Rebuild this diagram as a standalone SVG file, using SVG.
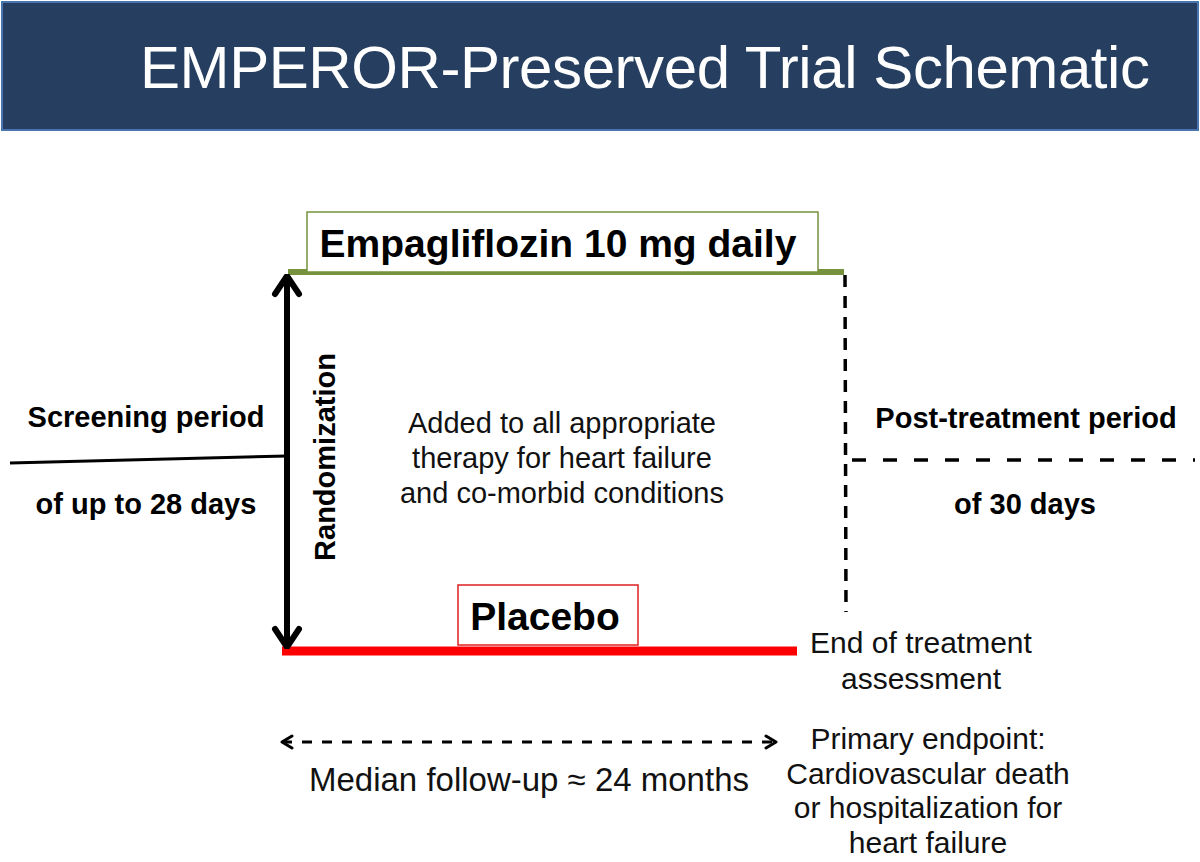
<svg xmlns="http://www.w3.org/2000/svg" width="1200" height="862" viewBox="0 0 1200 862">
<style>
.b{font-family:"Liberation Sans",Arial,sans-serif;font-weight:bold;fill:#000}
.n{font-family:"Liberation Sans",Arial,sans-serif;fill:#111}
</style>
<defs>
<marker id="ah" viewBox="0 0 24 32" refX="22" refY="16" markerWidth="24" markerHeight="32" markerUnits="userSpaceOnUse" orient="auto-start-reverse">
<path d="M4,4 L22,16 L4,28" fill="none" stroke="#000" stroke-width="6" stroke-linecap="round" stroke-linejoin="round"/>
</marker>
<marker id="sa" viewBox="0 0 16 16" refX="13" refY="8" markerWidth="16" markerHeight="16" markerUnits="userSpaceOnUse" orient="auto-start-reverse">
<path d="M3,2 L13,8 L3,14" fill="none" stroke="#000" stroke-width="3" stroke-linecap="round" stroke-linejoin="round"/>
</marker>
</defs>
<rect x="0" y="0" width="1200" height="862" fill="#fff"/>
<g id="header">
<rect x="2" y="2" width="1196" height="128" fill="#263f60" stroke="#4a74b0" stroke-width="2"/>
<text x="140" y="88" font-family="Liberation Sans,Arial,sans-serif" font-size="60" fill="#fff" textLength="1010">EMPEROR-Preserved Trial Schematic</text>
</g>
<g id="connectors">
<line x1="10" y1="463" x2="287" y2="456" stroke="#000" stroke-width="3"/>
<line x1="288" y1="272" x2="844" y2="272" stroke="#76923c" stroke-width="6"/>
<line x1="282" y1="651" x2="797" y2="651" stroke="#ff0000" stroke-width="9"/>
<line x1="287" y1="276" x2="287" y2="647" stroke="#000" stroke-width="6" marker-start="url(#ah)" marker-end="url(#ah)"/>
<line x1="845" y1="275" x2="846" y2="612" stroke="#000" stroke-width="3.5" stroke-dasharray="12,9"/>
<line x1="852" y1="460" x2="1195" y2="460" stroke="#000" stroke-width="3.5" stroke-dasharray="14,17"/>
<line x1="282" y1="742" x2="776" y2="742" stroke="#000" stroke-width="3" stroke-dasharray="10,10" marker-start="url(#sa)" marker-end="url(#sa)"/>
</g>
<g id="empagliflozin">
<rect x="307" y="212" width="511" height="60" fill="#fff" stroke="#76923c" stroke-width="1.5"/>
<text x="558" y="257" class="b" font-size="39" text-anchor="middle">Empagliflozin 10 mg daily</text>
</g>
<g id="placebo">
<rect x="458" y="585" width="180" height="60" fill="#fff" stroke="#e02020" stroke-width="1.5"/>
<text x="545" y="630" class="b" font-size="39" text-anchor="middle">Placebo</text>
</g>
<g id="randomization">
<text transform="translate(335,457) rotate(-90)" class="b" font-size="29" text-anchor="middle">Randomization</text>
</g>
<g id="screening">
<text x="146" y="427" class="b" font-size="29" text-anchor="middle">Screening period</text>
<text x="146" y="514" class="b" font-size="29" text-anchor="middle">of up to 28 days</text>
</g>
<g id="posttreatment">
<text x="1026" y="428" class="b" font-size="29" text-anchor="middle">Post-treatment period</text>
<text x="1025" y="514" class="b" font-size="29" text-anchor="middle">of 30 days</text>
</g>
<g id="added">
<text class="n" font-size="29" text-anchor="middle"><tspan x="562" y="433">Added to all appropriate</tspan><tspan x="562" y="468">therapy for heart failure</tspan><tspan x="562" y="503">and co-morbid conditions</tspan></text>
</g>
<g id="endtreatment">
<text class="n" font-size="30" text-anchor="middle"><tspan x="921" y="653">End of treatment</tspan><tspan x="921" y="689">assessment</tspan></text>
</g>
<g id="followup">
<text x="529" y="791" class="n" font-size="33" text-anchor="middle">Median follow-up ≈ 24 months</text>
</g>
<g id="endpoint">
<text class="n" font-size="30" text-anchor="middle"><tspan x="928" y="749">Primary endpoint:</tspan><tspan x="928" y="784">Cardiovascular death</tspan><tspan x="928" y="818">or hospitalization for</tspan><tspan x="928" y="853">heart failure</tspan></text>
</g>
</svg>
